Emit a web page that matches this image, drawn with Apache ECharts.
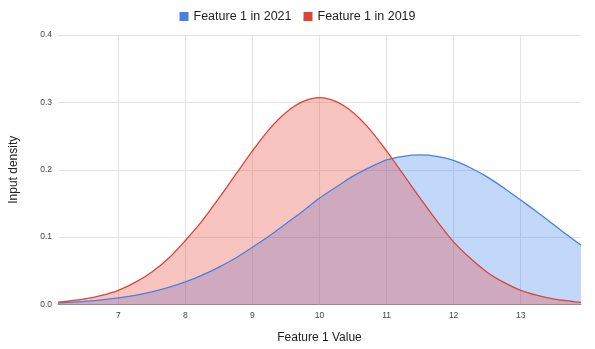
<!DOCTYPE html>
<html>
<head>
<meta charset="utf-8">
<script src="https://cdn.jsdelivr.net/npm/echarts@6/dist/echarts.min.js"></script>
<style>
  html, body { margin: 0; padding: 0; background: #fff; }
  #chart { width: 595px; height: 349px; }
</style>
</head>
<body>
<div id="chart"></div>
<script>
// Sample positions along Feature 1
const xValues = [6.1, 6.25, 6.5, 6.75, 7, 7.25, 7.5, 7.75, 8, 8.25, 8.5, 8.75, 9, 9.25, 9.5, 9.75, 10,
                 10.25, 10.5, 10.75, 11, 11.25, 11.5, 11.75, 12, 12.25, 12.5, 12.75, 13, 13.25, 13.5, 13.75, 13.9];
// Estimated input density per year
const density2021 = [0.0025, 0.0032, 0.0047, 0.0068, 0.0098, 0.0137, 0.0188, 0.0253, 0.0335, 0.0435, 0.0554, 0.0691, 0.0850, 0.1016, 0.1200, 0.1384, 0.1580,
                     0.1744, 0.1905, 0.2035, 0.2145, 0.2199, 0.2220, 0.2199, 0.2140, 0.2030, 0.1895, 0.1730, 0.1550, 0.1370, 0.1180, 0.0990, 0.0880];
const density2019 = [0.0034, 0.0048, 0.0082, 0.0135, 0.0210, 0.0328, 0.0483, 0.0686, 0.0950, 0.1240, 0.1580, 0.1930, 0.2280, 0.2600, 0.2850, 0.3010, 0.3070,
                     0.3010, 0.2850, 0.2600, 0.2280, 0.1930, 0.1580, 0.1240, 0.0930, 0.0686, 0.0480, 0.0328, 0.0210, 0.0135, 0.0080, 0.0048, 0.0030];
const seriesNames = ['Feature 1 in 2021', 'Feature 1 in 2019'];
const yTicks = [0, 0.1, 0.2, 0.3, 0.4];

const pairs = (ys) => xValues.map((x, i) => [x, ys[i]]);

const chart = echarts.init(document.getElementById('chart'), null, { renderer: 'canvas' });
const font = 'Arial, "Liberation Sans", sans-serif';

chart.setOption({
  animation: false,
  textStyle: { fontFamily: font },
  legend: {
    top: 5,
    left: 'center',
    itemWidth: 9,
    itemHeight: 9,
    itemGap: 12,
    icon: 'rect',
    textStyle: { fontSize: 12.5, color: '#222', fontFamily: font },
    data: seriesNames
  },
  grid: { left: 55, right: 14, top: 35, bottom: 44.5, containLabel: false },
  xAxis: {
    type: 'value',
    min: xValues[0],
    max: xValues[xValues.length - 1],
    splitNumber: 8,
    name: 'Feature 1 Value',
    nameLocation: 'middle',
    nameGap: 27,
    nameTextStyle: { fontSize: 12, color: '#222', fontFamily: font },
    axisLine: { show: true, lineStyle: { color: '#9a9a9a', width: 1 } },
    axisTick: { show: false },
    axisLabel: { showMinLabel: false, showMaxLabel: false, fontSize: 8.5, color: '#444', margin: 7 },
    splitLine: { show: true, showMinLine: false, showMaxLine: false, lineStyle: { color: '#e3e3e3', width: 1 } }
  },
  yAxis: {
    type: 'value',
    min: yTicks[0],
    max: yTicks[yTicks.length - 1],
    interval: 0.1,
    name: 'Input density',
    nameLocation: 'middle',
    nameGap: 38,
    nameTextStyle: { fontSize: 12, color: '#222', fontFamily: font },
    axisLine: { show: false },
    axisTick: { show: false },
    axisLabel: { fontSize: 8.5, color: '#444', margin: 6, formatter: (v) => v.toFixed(1) },
    splitLine: { show: true, lineStyle: { color: '#e3e3e3', width: 1 } }
  },
  series: [
    {
      name: seriesNames[0],
      type: 'line',
      data: pairs(density2021),
      smooth: 0.3,
      showSymbol: false,
      symbol: 'none',
      color: '#4a80e0',
      lineStyle: { color: '#4a80e0', width: 1.3 },
      areaStyle: { color: '#4285f4', opacity: 0.32 }
    },
    {
      name: seriesNames[1],
      type: 'line',
      data: pairs(density2019),
      smooth: 0.3,
      showSymbol: false,
      symbol: 'none',
      color: '#db4437',
      lineStyle: { color: '#d9453a', width: 1.3 },
      areaStyle: { color: '#e8473a', opacity: 0.32 }
    }
  ]
});
</script>
</body>
</html>
